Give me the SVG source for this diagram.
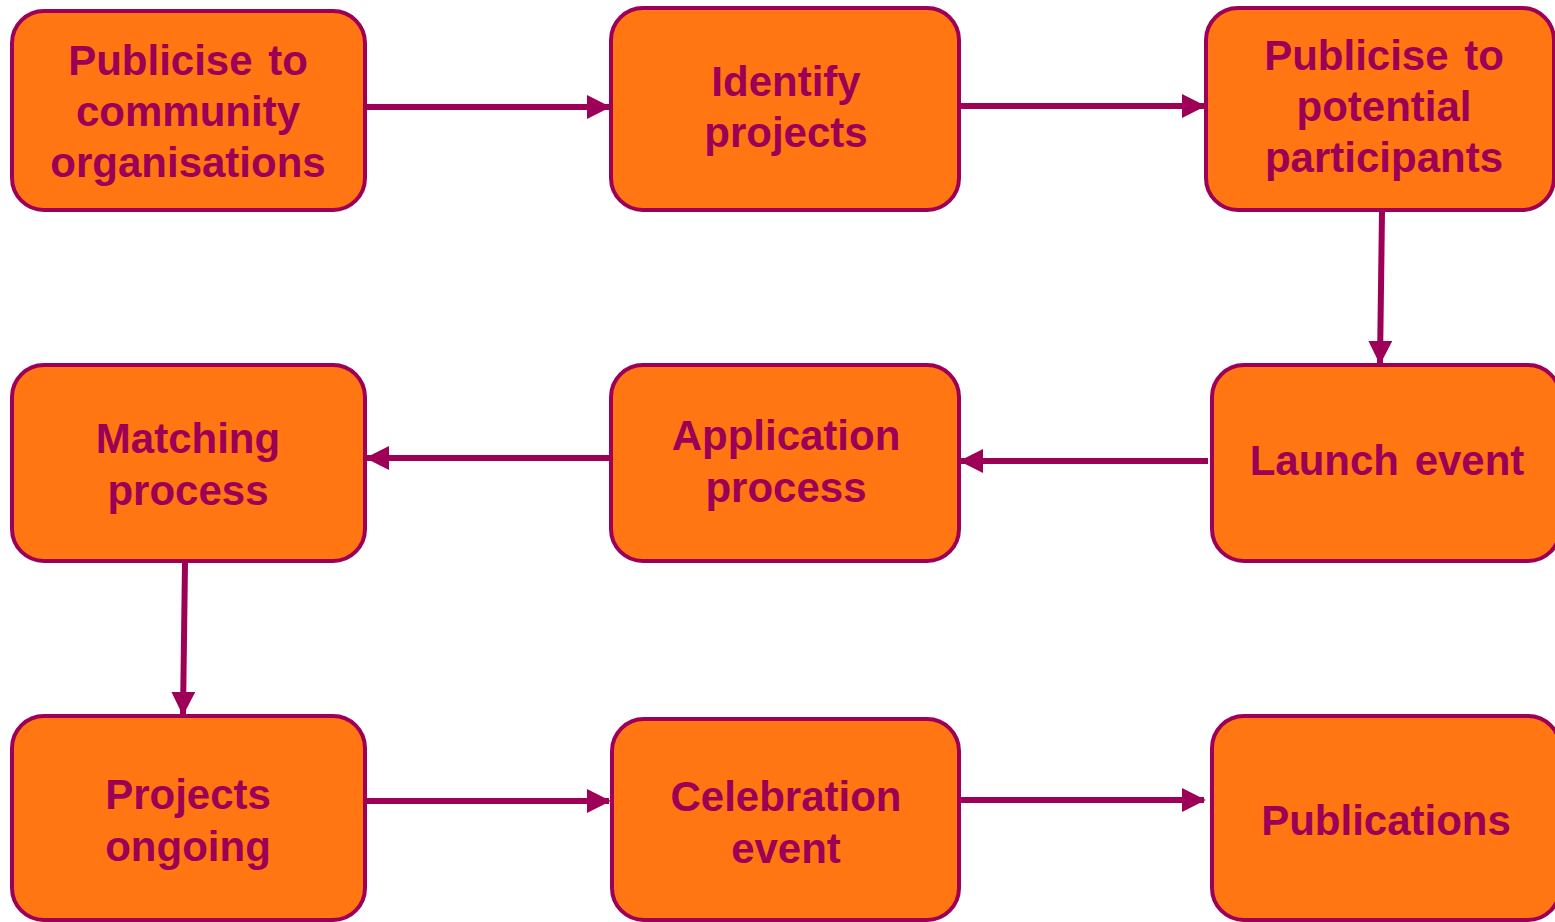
<svg xmlns="http://www.w3.org/2000/svg" width="1555" height="922" viewBox="0 0 1555 922">
<style>
.box{fill:#FF7613;stroke:#9E0058;stroke-width:4}
.lbl{font-family:"Liberation Sans",Arial,sans-serif;font-weight:bold;font-size:42px;fill:#9B0056;text-anchor:middle;word-spacing:4px}
.conn{stroke:#9E0058;stroke-width:6;fill:none;marker-end:url(#ah)}
</style>
<defs>
<marker id="ah" markerWidth="4" markerHeight="4" refX="3.7" refY="2" orient="auto" markerUnits="strokeWidth" viewBox="0 0 4 4">
<path d="M0,0 L4,2 L0,4 Z" fill="#9E0058"/>
</marker>
</defs>
<rect width="1555" height="922" fill="#FFFFFF"/>
<g id="connectors">
<line class="conn" x1="367" y1="107" x2="609" y2="107"/>
<line class="conn" x1="961" y1="106" x2="1204" y2="106"/>
<line class="conn" x1="1382" y1="212" x2="1380" y2="363"/>
<line class="conn" x1="1208" y1="461" x2="961" y2="461"/>
<line class="conn" x1="610" y1="458" x2="367" y2="458"/>
<line class="conn" x1="185" y1="563" x2="183" y2="714"/>
<line class="conn" x1="367" y1="801" x2="609" y2="801"/>
<line class="conn" x1="961" y1="800" x2="1204" y2="800"/>
</g>
<g id="n1"><rect class="box" x="12" y="11" width="353" height="199" rx="32"/>
<text class="lbl" x="188" y="75">Publicise to</text><text class="lbl" x="188" y="126">community</text><text class="lbl" x="188" y="177">organisations</text></g>
<g id="n2"><rect class="box" x="611" y="8" width="348" height="202" rx="32"/>
<text class="lbl" x="786" y="96">Identify</text><text class="lbl" x="786" y="147">projects</text></g>
<g id="n3"><rect class="box" x="1206" y="8" width="348" height="202" rx="32"/>
<text class="lbl" x="1384" y="70">Publicise to</text><text class="lbl" x="1384" y="121">potential</text><text class="lbl" x="1384" y="172">participants</text></g>
<g id="n4"><rect class="box" x="12" y="365" width="353" height="196" rx="32"/>
<text class="lbl" x="188" y="453">Matching</text><text class="lbl" x="188" y="505">process</text></g>
<g id="n5"><rect class="box" x="611" y="365" width="348" height="196" rx="32"/>
<text class="lbl" x="786" y="450">Application</text><text class="lbl" x="786" y="502">process</text></g>
<g id="n6"><rect class="box" x="1212" y="365" width="348" height="196" rx="32"/>
<text class="lbl" x="1387" y="475">Launch event</text></g>
<g id="n7"><rect class="box" x="12" y="716" width="353" height="204" rx="32"/>
<text class="lbl" x="188" y="809">Projects</text><text class="lbl" x="188" y="861">ongoing</text></g>
<g id="n8"><rect class="box" x="612" y="719" width="347" height="201" rx="32"/>
<text class="lbl" x="786" y="811">Celebration</text><text class="lbl" x="786" y="863">event</text></g>
<g id="n9"><rect class="box" x="1212" y="716" width="348" height="204" rx="32"/>
<text class="lbl" x="1386" y="835">Publications</text></g>
</svg>
